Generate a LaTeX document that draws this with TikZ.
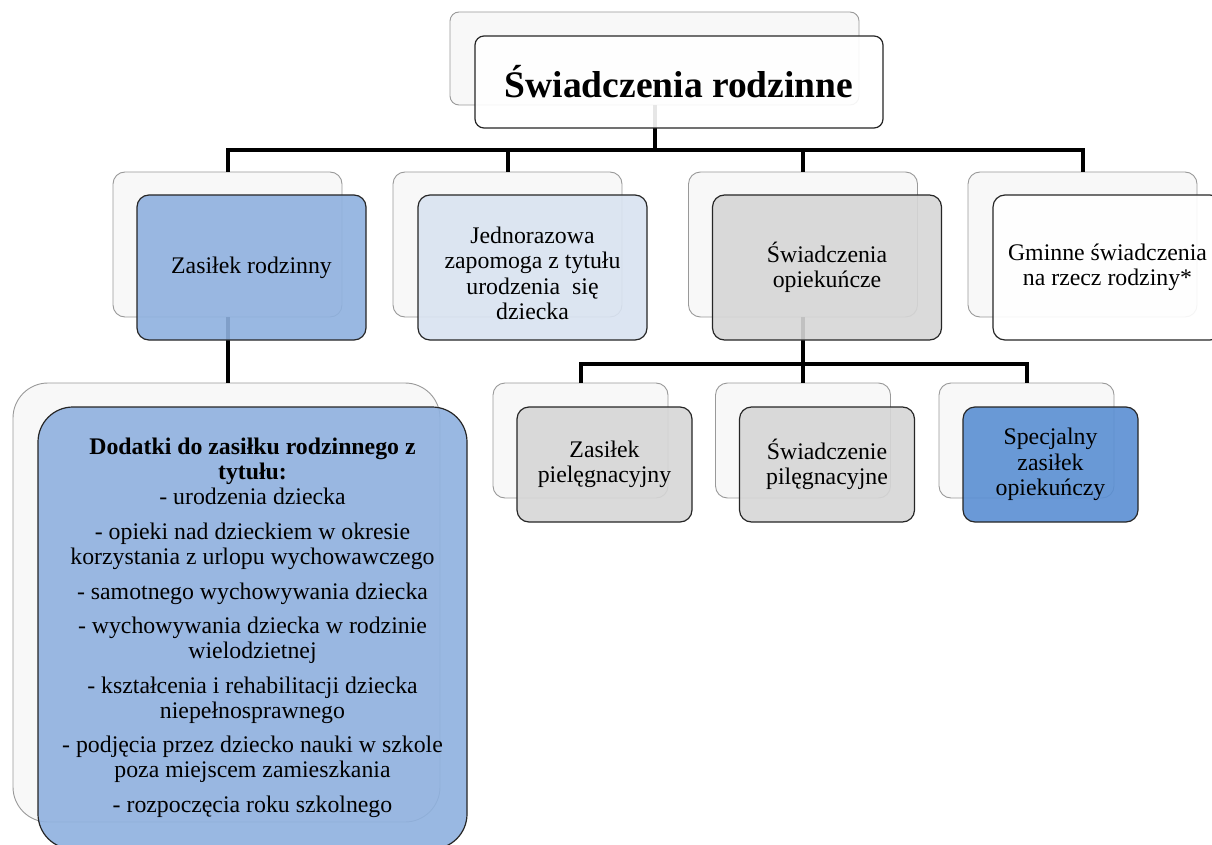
\documentclass[tikz,border=0pt]{standalone}
\usepackage{fontspec}
\setmainfont{Liberation Serif}
\definecolor{bluemid}{HTML}{8FB1DF}
\definecolor{bluelight}{HTML}{D9E3F1}
\definecolor{graybox}{HTML}{D6D6D6}
\definecolor{bluedark}{HTML}{5A8FD3}
\definecolor{backfill}{HTML}{F8F8F8}
\definecolor{backline}{HTML}{999999}
\begin{document}
\begin{tikzpicture}[x=1pt,y=-1pt,
  back/.style={draw=backline, fill=backfill, line width=0.9pt, rounded corners=12pt, inner sep=0pt},
  front/.style={draw=black!85, line width=1.2pt, fill opacity=0.9, text opacity=1, rounded corners=12pt,
    inner sep=0pt, align=center, font=\fontsize{23.8}{25.5}\selectfont},
  midsize/.style={minimum width=229pt, minimum height=145pt},
  lowsize/.style={minimum width=175pt, minimum height=115pt},
  conn/.style={line width=4pt, black}]
\useasboundingbox (0,0) rectangle (1212,845);
\clip (0,0) rectangle (1212,845);
\fill[white] (0,0) rectangle (1212,845);

% back boxes
\node[back, rounded corners=9pt, minimum width=409pt, minimum height=93pt] (tb) at (654.5,58.5) {};
\node[back, midsize] (zb) at (227.5,244.5) {};
\node[back, midsize] (jb) at (507.5,244.5) {};
\node[back, midsize] (ob) at (803,244.5) {};
\node[back, midsize] (gb) at (1082.5,244.5) {};
\node[back, rounded corners=35pt, minimum width=427pt, minimum height=439pt] (db) at (226.5,602.5) {};
\node[back, lowsize] (pb) at (580.5,440.5) {};
\node[back, lowsize] (sb) at (803,440.5) {};
\node[back, lowsize] (spb) at (1026.5,440.5) {};

% connectors
\coordinate (h1) at (654.5,150);
\coordinate (h2) at (803,364);
\draw[conn] (tb.south) -- (h1);
\draw[conn] (zb.north) |- (h1) -| (gb.north);
\draw[conn] (jb.north) -- (jb.north |- h1);
\draw[conn] (ob.north) -- (ob.north |- h1);
\draw[conn] (zb.south) -- (zb.south |- db.north);
\draw[conn] (ob.south) -- (h2);
\draw[conn] (pb.north) |- (h2) -| (spb.north);
\draw[conn] (sb.north) -- (sb.north |- h2);

% front boxes
\node[front, fill=white, rounded corners=9pt, minimum width=408pt, minimum height=92pt,
  font=\fontsize{37.5}{40}\selectfont\bfseries] (tf) at (679,82) {Świadczenia rodzinne};
\node[front, midsize, fill=bluemid] (zf) at (251.5,267.5) {Zasiłek rodzinny};
\node[front, midsize, fill=bluelight] (jf) at (532.5,267.5) {\rule{0pt}{28pt}Jednorazowa\\zapomoga z tytułu\\urodzenia~ się\\dziecka};
\node[front, midsize, fill=graybox] (of) at (827,267.5) {Świadczenia\\opiekuńcze};
\node[front, midsize, fill=white] (gf) at (1107.5,267.5) {Gminne świadczenia\\na rzecz rodziny*};
\node[front, lowsize, fill=graybox] (pf) at (604.5,464.5) {Zasiłek\\pielęgnacyjny};
\node[front, lowsize, fill=graybox] (sf) at (827,464.5) {Świadczenie\\pilęgnacyjne};
\node[front, lowsize, fill=bluedark] (spf) at (1050.5,464.5) {Specjalny\\zasiłek\\opiekuńczy};
\node[front, rounded corners=35pt, fill=bluemid, minimum width=429pt, minimum height=442pt,
  font=\fontsize{23.8}{25}\selectfont] (df) at (252.5,628) {%
  \textbf{Dodatki do zasiłku rodzinnego z}\\
  \textbf{tytułu:}\\
  - urodzenia dziecka\\[10pt]
  - opieki nad dzieckiem w okresie\\
  korzystania z urlopu wychowawczego\\[10pt]
  - samotnego wychowywania dziecka\\[9pt]
  - wychowywania dziecka w rodzinie\\
  wielodzietnej\\[10pt]
  - kształcenia i rehabilitacji dziecka\\
  niepełnosprawnego\\[9pt]
  - podjęcia przez dziecko nauki w szkole\\
  poza miejscem zamieszkania\\[10pt]
  - rozpoczęcia roku szkolnego};
\end{tikzpicture}
\end{document}
